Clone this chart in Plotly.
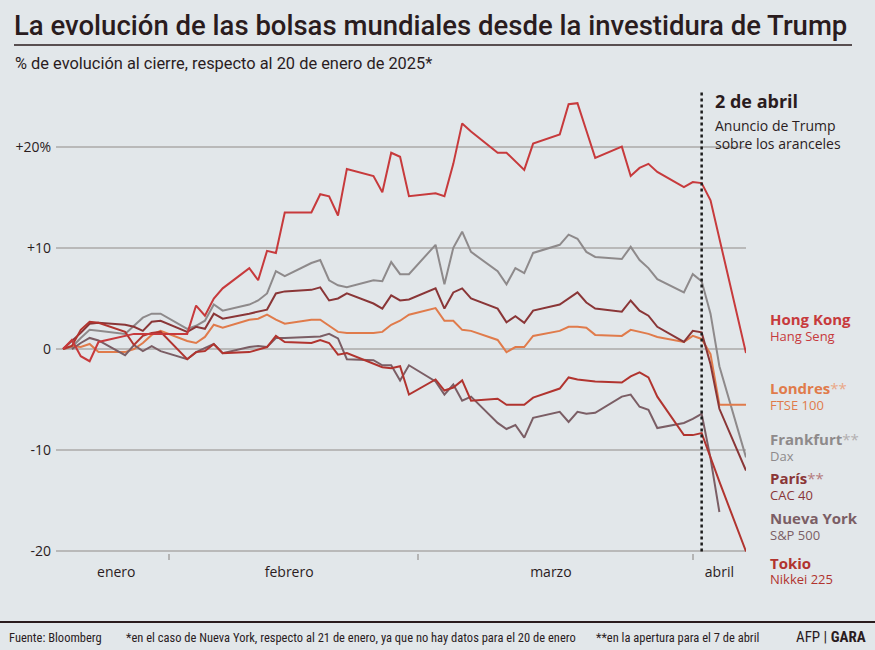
import plotly.graph_objects as go

# ---------------- data ----------------
dates = [
    "2025-01-20", "2025-01-21", "2025-01-22", "2025-01-23", "2025-01-24",
    "2025-01-27", "2025-01-28", "2025-01-29", "2025-01-30", "2025-01-31",
    "2025-02-03", "2025-02-04", "2025-02-05", "2025-02-06", "2025-02-07",
    "2025-02-10", "2025-02-11", "2025-02-12", "2025-02-13", "2025-02-14",
    "2025-02-17", "2025-02-18", "2025-02-19", "2025-02-20", "2025-02-21",
    "2025-02-24", "2025-02-25", "2025-02-26", "2025-02-27", "2025-02-28",
    "2025-03-03", "2025-03-04", "2025-03-05", "2025-03-06", "2025-03-07",
    "2025-03-10", "2025-03-11", "2025-03-12", "2025-03-13", "2025-03-14",
    "2025-03-17", "2025-03-18", "2025-03-19", "2025-03-20", "2025-03-21",
    "2025-03-24", "2025-03-25", "2025-03-26", "2025-03-27", "2025-03-28",
    "2025-03-31", "2025-04-01", "2025-04-02", "2025-04-03", "2025-04-04",
    "2025-04-07",
]

hong_kong = [
    0, 0.9, -0.7, -1.2, 0.7,
    1.3, 1.5, None, None, None,
    1.5, 4.3, 3.3, 5.0, 6.0,
    8.0, 6.8, 9.7, 9.5, 13.5,
    13.5, 15.3, 15.1, 13.2, 17.8,
    17.1, 15.5, 19.4, 19.0, 15.1,
    15.4, 15.1, 18.3, 22.3, 21.5,
    19.4, 19.4, 18.5, 17.7, 20.3,
    21.2, 24.2, 24.3, 21.6, 18.9,
    20.0, 17.1, 17.9, 18.3, 17.5,
    16.0, 16.5, 16.4, 14.7, None,
    -0.4,
]

londres = [
    0, 0.3, 0.2, 0.5, -0.3,
    -0.3, 0.0, 0.6, 1.4, 1.8,
    0.8, 0.6, 1.2, 2.4, 2.1,
    2.9, 3.0, 3.4, 2.9, 2.5,
    2.9, 2.9, 2.3, 1.7, 1.6,
    1.6, 1.7, 2.4, 2.8, 3.4,
    4.05, 2.8, 2.8, 1.9, 1.8,
    0.9, -0.3, 0.2, 0.2, 1.3,
    1.8, 2.2, 2.2, 2.1, 1.4,
    1.3, 1.9, 1.7, 1.5, 1.2,
    0.7, 1.3, 1.0, -0.5, -5.5,
    -5.5,
]

frankfurt = [
    0, 0.2, 1.1, 1.9, 1.8,
    1.5, 2.3, 3.1, 3.5, 3.5,
    2.0, 2.3, 2.8, 4.4, 3.8,
    4.4, 4.8, 5.5, 7.7, 7.2,
    8.5, 8.8, 6.8, 6.3, 6.1,
    6.8, 6.7, 8.6, 7.4, 7.4,
    10.3, 6.4, 10.0, 11.6, 9.6,
    7.7, 6.4, 8.0, 7.5, 9.5,
    10.3, 11.3, 10.9, 9.6, 9.1,
    8.9, 10.1, 8.8, 8.0, 6.9,
    5.6, 7.4, 6.7, 3.5, -1.7,
    -10.7,
]

paris = [
    0, 0.8, 1.6, 2.5, 2.6,
    2.4, 2.2, 1.8, 2.7, 2.8,
    1.7, 2.2, 2.0, 3.5, 3.0,
    3.5, 3.7, 3.9, 5.5, 5.7,
    5.85, 6.1, 4.8, 5.0, 5.5,
    4.5, 4.0, 5.3, 4.8, 4.9,
    6.0, 4.0, 5.6, 6.0, 5.0,
    4.0, 2.65, 3.25, 2.6, 3.8,
    4.4, 5.0, 5.6, 4.6, 4.0,
    3.7, 4.8, 3.8, 3.3, 2.2,
    0.7, 1.8, 1.65, -1.5, -5.9,
    -12.0,
]

nueva_york = [
    None, 0, 0.6, 1.1, 0.85,
    -0.6, 0.4, -0.2, 0.3, -0.2,
    -1.0, -0.3, 0.1, 0.5, -0.4,
    0.2, 0.3, 0.2, 1.1, 1.1,
    None, 1.25, 1.5, 1.05, -1.0,
    -1.1, -1.6, -1.6, -3.1, -1.6,
    -3.2, -4.5, -3.5, -5.1, -4.7,
    -7.3, -7.9, -7.5, -8.75, -6.8,
    -6.2, -7.2, -6.2, -6.4, -6.3,
    -4.7, -4.5, -5.7, -6.0, -7.8,
    -7.3, -6.9, -6.4, -10.8, -16.1,
    None,
]

tokio = [
    0, 0.3, 1.9, 2.7, 2.6,
    1.7, 0.4, 1.3, 1.6, 1.7,
    -1.0, -0.3, -0.2, 0.5, -0.4,
    -0.3, None, 0.2, 1.3, 0.7,
    0.6, 0.9, 0.6, -0.55, -0.4,
    None, -1.8, -1.9, -1.7, -4.5,
    -3.0, -4.1, -3.8, -3.1, -5.1,
    -4.9, -5.5, -5.5, -5.5, -4.8,
    -3.9, -2.8, -3.0, None, -3.2,
    -3.3, -2.7, -2.3, -2.8, -4.7,
    -8.5, -8.5, -8.3, -10.7, -13.1,
    -20.0,
]

y_tickvals = [-20, -10, 0, 10, 20]
y_ticktext = ["-20", "-10", "0", "+10", "+20%"]

month_label_dates = ["2025-01-26", "2025-02-14 12:00", "2025-03-16", "2025-04-04"]
month_labels = ["enero", "febrero", "marzo", "abril"]
month_bounds = ["2025-02-01", "2025-03-01", "2025-04-01"]

# (bold name, asterisks, index name, colour, light colour, y of name, y of index)
legend_items = [
    ("Hong Kong", "", "Hang Seng", "#c73a3c", "#d98a8b", 319, 336),
    ("Londres", "**", "FTSE 100", "#e07b4b", "#eaa887", 388, 405),
    ("Frankfurt", "**", "Dax", "#8e8a8b", "#b3afb0", 439, 456),
    ("París", "**", "CAC 40", "#8a3637", "#b57b7c", 478, 495),
    ("Nueva York", "", "S&P 500", "#7b5e65", "#a8949a", 518, 535),
    ("Tokio", "", "Nikkei 225", "#b1342f", "#cc7f7b", 563, 579),
]

series = [
    ("Frankfurt", frankfurt, "#8e8a8b"),
    ("Londres", londres, "#e07b4b"),
    ("Nueva York", nueva_york, "#7b5e65"),
    ("París", paris, "#8a3637"),
    ("Tokio", tokio, "#b1342f"),
    ("Hong Kong", hong_kong, "#c73a3c"),
]

# ---------------- layout geometry ----------------
W, H = 875, 650
L, R, T, B = 56, 129, 91, 97
PW, PH = W - L - R, H - T - B

BG = "#e2e7ea"
INK = "#2a1c1e"
COND = "Roboto, sans-serif"
SANS = "Open Sans, Noto Sans, sans-serif"


def px(x):
    return (x - L) / PW


def py(y):
    return 1 - (y - T) / PH


def cond(s):
    return "<span style='font-stretch:condensed'>%s</span>" % s


fig = go.Figure()
for name, vals, col in series:
    fig.add_trace(go.Scatter(
        x=dates, y=vals, mode="lines", name=name,
        line=dict(color=col, width=2), connectgaps=True,
        hoverinfo="skip", showlegend=False,
    ))

annotations = []


def txt(x, y, text, size, color=INK, family=SANS, xanchor="left", yanchor="middle", weight="normal"):
    annotations.append(dict(
        x=px(x), y=py(y), xref="paper", yref="paper", text=text, showarrow=False,
        xanchor=xanchor, yanchor=yanchor, align="left",
        font=dict(size=size, color=color, family=family, weight=weight),
    ))


txt(12, 25, "La evolución de las bolsas mundiales desde la investidura de Trump", 27.5,
    family=COND, weight=500)
txt(12.5, 63, "% de evolución al cierre, respecto al 20 de enero de 2025*", 16.4, family=COND)

txt(713, 101, "<b>2 de abril</b>", 18)
txt(713, 125, "Anuncio de Trump", 14)
txt(713, 143, "sobre los aranceles", 14)

for name, stars, idx, col, light, y1, y2 in legend_items:
    t = "<b>%s</b>" % name
    if stars:
        t += "<span style='color:%s'>%s</span>" % (light, stars)
    txt(768, y1, t, 15, color=col)
    txt(768, y2, idx, 13, color=col)

fy = 637
txt(7, fy, cond("Fuente: Bloomberg"), 12.5, family=COND)
txt(124, fy, cond("*en el caso de Nueva York, respecto al 21 de enero, ya que no hay datos para el 20 de enero"),
    12.5, family=COND)
txt(594, fy, cond("**en la apertura para el 7 de abril"), 12.5, family=COND)
txt(868, fy, cond("AFP | <b>GARA</b>"), 15, family=COND, xanchor="right")

shapes = [
    dict(type="line", xref="paper", yref="paper", x0=px(14), x1=px(852), y0=py(45), y1=py(45),
         line=dict(color=INK, width=1.5)),
    dict(type="line", xref="paper", yref="paper", x0=px(0), x1=px(875), y0=py(622), y1=py(622),
         line=dict(color=INK, width=2)),
    dict(type="line", xref="x", yref="y", x0="2025-04-02", x1="2025-04-02", y0=-20, y1=25.4,
         line=dict(color="#1c1c1c", width=2.5, dash="dot")),
]

fig.update_layout(
    width=W, height=H,
    margin=dict(l=L, r=R, t=T, b=B),
    paper_bgcolor=BG, plot_bgcolor=BG,
    showlegend=False,
    annotations=annotations, shapes=shapes,
    xaxis=dict(
        type="date", range=["2025-01-19 05:00", "2025-04-07"],
        showgrid=False, zeroline=False, showline=False,
        tickmode="array", tickvals=month_label_dates, ticktext=month_labels,
        ticks="", ticklabelstandoff=9, tickfont=dict(size=14, color=INK, family=SANS),
        minor=dict(tickmode="array", tickvals=month_bounds, ticks="outside",
                   ticklen=6, tickwidth=2, tickcolor="#b4b4b4", showgrid=False),
        fixedrange=True,
    ),
    yaxis=dict(
        range=[-20.15, 25.5], tickvals=y_tickvals, ticktext=y_ticktext,
        showgrid=True, gridcolor="#b9b9b9", gridwidth=2, zeroline=False,
        showline=False, ticks="", ticklabelstandoff=4,
        tickfont=dict(size=14, color=INK, family=SANS),
        fixedrange=True,
    ),
)

fig.write_html("out.html", config={"displayModeBar": False},
               post_script="document.body.style.margin='0';")
